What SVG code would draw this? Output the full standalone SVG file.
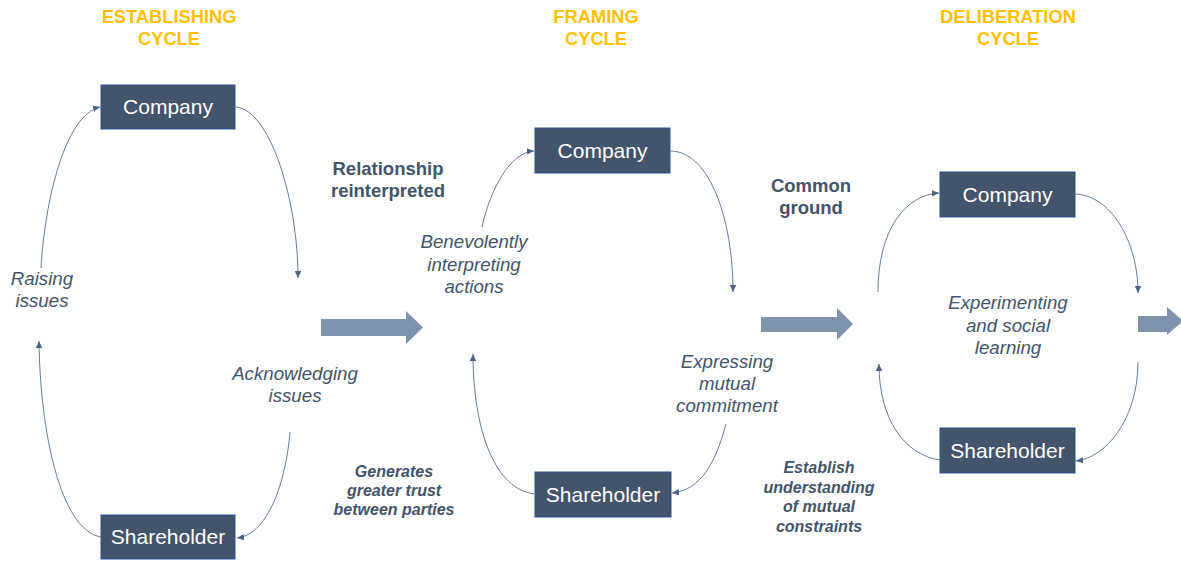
<svg xmlns="http://www.w3.org/2000/svg" width="1181" height="562" viewBox="0 0 1181 562">
<defs>
<marker id="ah" markerWidth="8" markerHeight="8" refX="7" refY="4" orient="auto" markerUnits="userSpaceOnUse">
<path d="M0,0.8 L7,4 L0,7.2 Z" fill="#4E6282"/>
</marker>
<style>
.box{fill:#44546A;stroke:#2F528F;stroke-width:1}
.bt{font-family:"Liberation Sans",Arial,sans-serif;font-size:21px;fill:#FFFFFF;text-anchor:middle}
.hd{font-family:"Liberation Sans",Arial,sans-serif;font-size:18.3px;font-weight:bold;fill:#FFC000;text-anchor:middle}
.bl{font-family:"Liberation Sans",Arial,sans-serif;font-size:18.5px;font-weight:bold;fill:#44546A;text-anchor:middle}
.it{font-family:"Liberation Sans",Arial,sans-serif;font-size:18.7px;font-style:italic;fill:#44546A;text-anchor:middle}
.bi{font-family:"Liberation Sans",Arial,sans-serif;font-size:16px;font-style:italic;font-weight:bold;fill:#44546A;text-anchor:middle}
.cn{fill:none;stroke:#6A7C98;stroke-width:1;marker-end:url(#ah)}
.big{fill:#7F92AC}
</style>
</defs>
<rect width="1181" height="562" fill="#FFFFFF"/>

<g id="headers">
<text class="hd" x="169" y="23">ESTABLISHING</text>
<text class="hd" x="169" y="45">CYCLE</text>
<text class="hd" x="596" y="23">FRAMING</text>
<text class="hd" x="596" y="45">CYCLE</text>
<text class="hd" x="1008" y="23">DELIBERATION</text>
<text class="hd" x="1008" y="45">CYCLE</text>
</g>

<g id="est-company"><rect class="box" x="101" y="85" width="134" height="44"/><text class="bt" x="168" y="114">Company</text></g>
<g id="est-shareholder"><rect class="box" x="101" y="515" width="134" height="44"/><text class="bt" x="168" y="544">Shareholder</text></g>
<g id="fr-company"><rect class="box" x="535" y="128" width="135" height="45"/><text class="bt" x="602.5" y="158">Company</text></g>
<g id="fr-shareholder"><rect class="box" x="535" y="472" width="136" height="45"/><text class="bt" x="603" y="502">Shareholder</text></g>
<g id="de-company"><rect class="box" x="940" y="172" width="135" height="45"/><text class="bt" x="1007.5" y="202">Company</text></g>
<g id="de-shareholder"><rect class="box" x="940" y="428" width="135" height="45"/><text class="bt" x="1007.5" y="458">Shareholder</text></g>

<g id="connectors">
<path class="cn" d="M41,268 C45,200 65,115 100,107"/>
<path class="cn" d="M236,107 C270,110 298,200 298,278"/>
<path class="cn" d="M101,537 C60,530 40,430 39,341"/>
<path class="cn" d="M290,432 C285,490 265,535 237,538"/>
<path class="cn" d="M482,227 C490,190 510,152 534,151"/>
<path class="cn" d="M671,151 C710,152 733,220 733,292"/>
<path class="cn" d="M726,424 C715,465 700,490 672,493"/>
<path class="cn" d="M535,494 C495,490 473,430 473,354"/>
<path class="cn" d="M878,292 C878,230 905,195 939,193"/>
<path class="cn" d="M1075,194 C1110,195 1138,240 1138,293"/>
<path class="cn" d="M1138,362 C1138,420 1105,458 1076,461"/>
<path class="cn" d="M940,460 C905,455 879,420 879,364"/>
</g>

<g id="stage-arrows">
<path class="big" d="M321,319 L406,319 L406,311 L423,327.5 L406,344 L406,336 L321,336 Z"/>
<path class="big" d="M761,317 L837,317 L837,308 L853,324 L837,340 L837,332 L761,332 Z"/>
<path class="big" d="M1138,316 L1167,316 L1167,307 L1183,321 L1167,335 L1167,332 L1138,332 Z"/>
</g>

<g id="labels">
<text class="it" x="42" y="285">Raising</text>
<text class="it" x="42" y="307">issues</text>
<text class="it" x="295" y="380">Acknowledging</text>
<text class="it" x="295" y="402">issues</text>
<text class="bl" x="388" y="175">Relationship</text>
<text class="bl" x="388" y="197">reinterpreted</text>
<text class="bi" x="394" y="477">Generates</text>
<text class="bi" x="394" y="496">greater trust</text>
<text class="bi" x="394" y="515">between parties</text>
<text class="it" x="474" y="248">Benevolently</text>
<text class="it" x="474" y="271">interpreting</text>
<text class="it" x="474" y="293">actions</text>
<text class="it" x="727" y="368">Expressing</text>
<text class="it" x="727" y="390">mutual</text>
<text class="it" x="727" y="412">commitment</text>
<text class="bl" x="811" y="192">Common</text>
<text class="bl" x="811" y="214">ground</text>
<text class="bi" x="819" y="473">Establish</text>
<text class="bi" x="819" y="493">understanding</text>
<text class="bi" x="819" y="512">of mutual</text>
<text class="bi" x="819" y="532">constraints</text>
<text class="it" x="1008" y="309">Experimenting</text>
<text class="it" x="1008" y="332">and social</text>
<text class="it" x="1008" y="354">learning</text>
</g>
</svg>
